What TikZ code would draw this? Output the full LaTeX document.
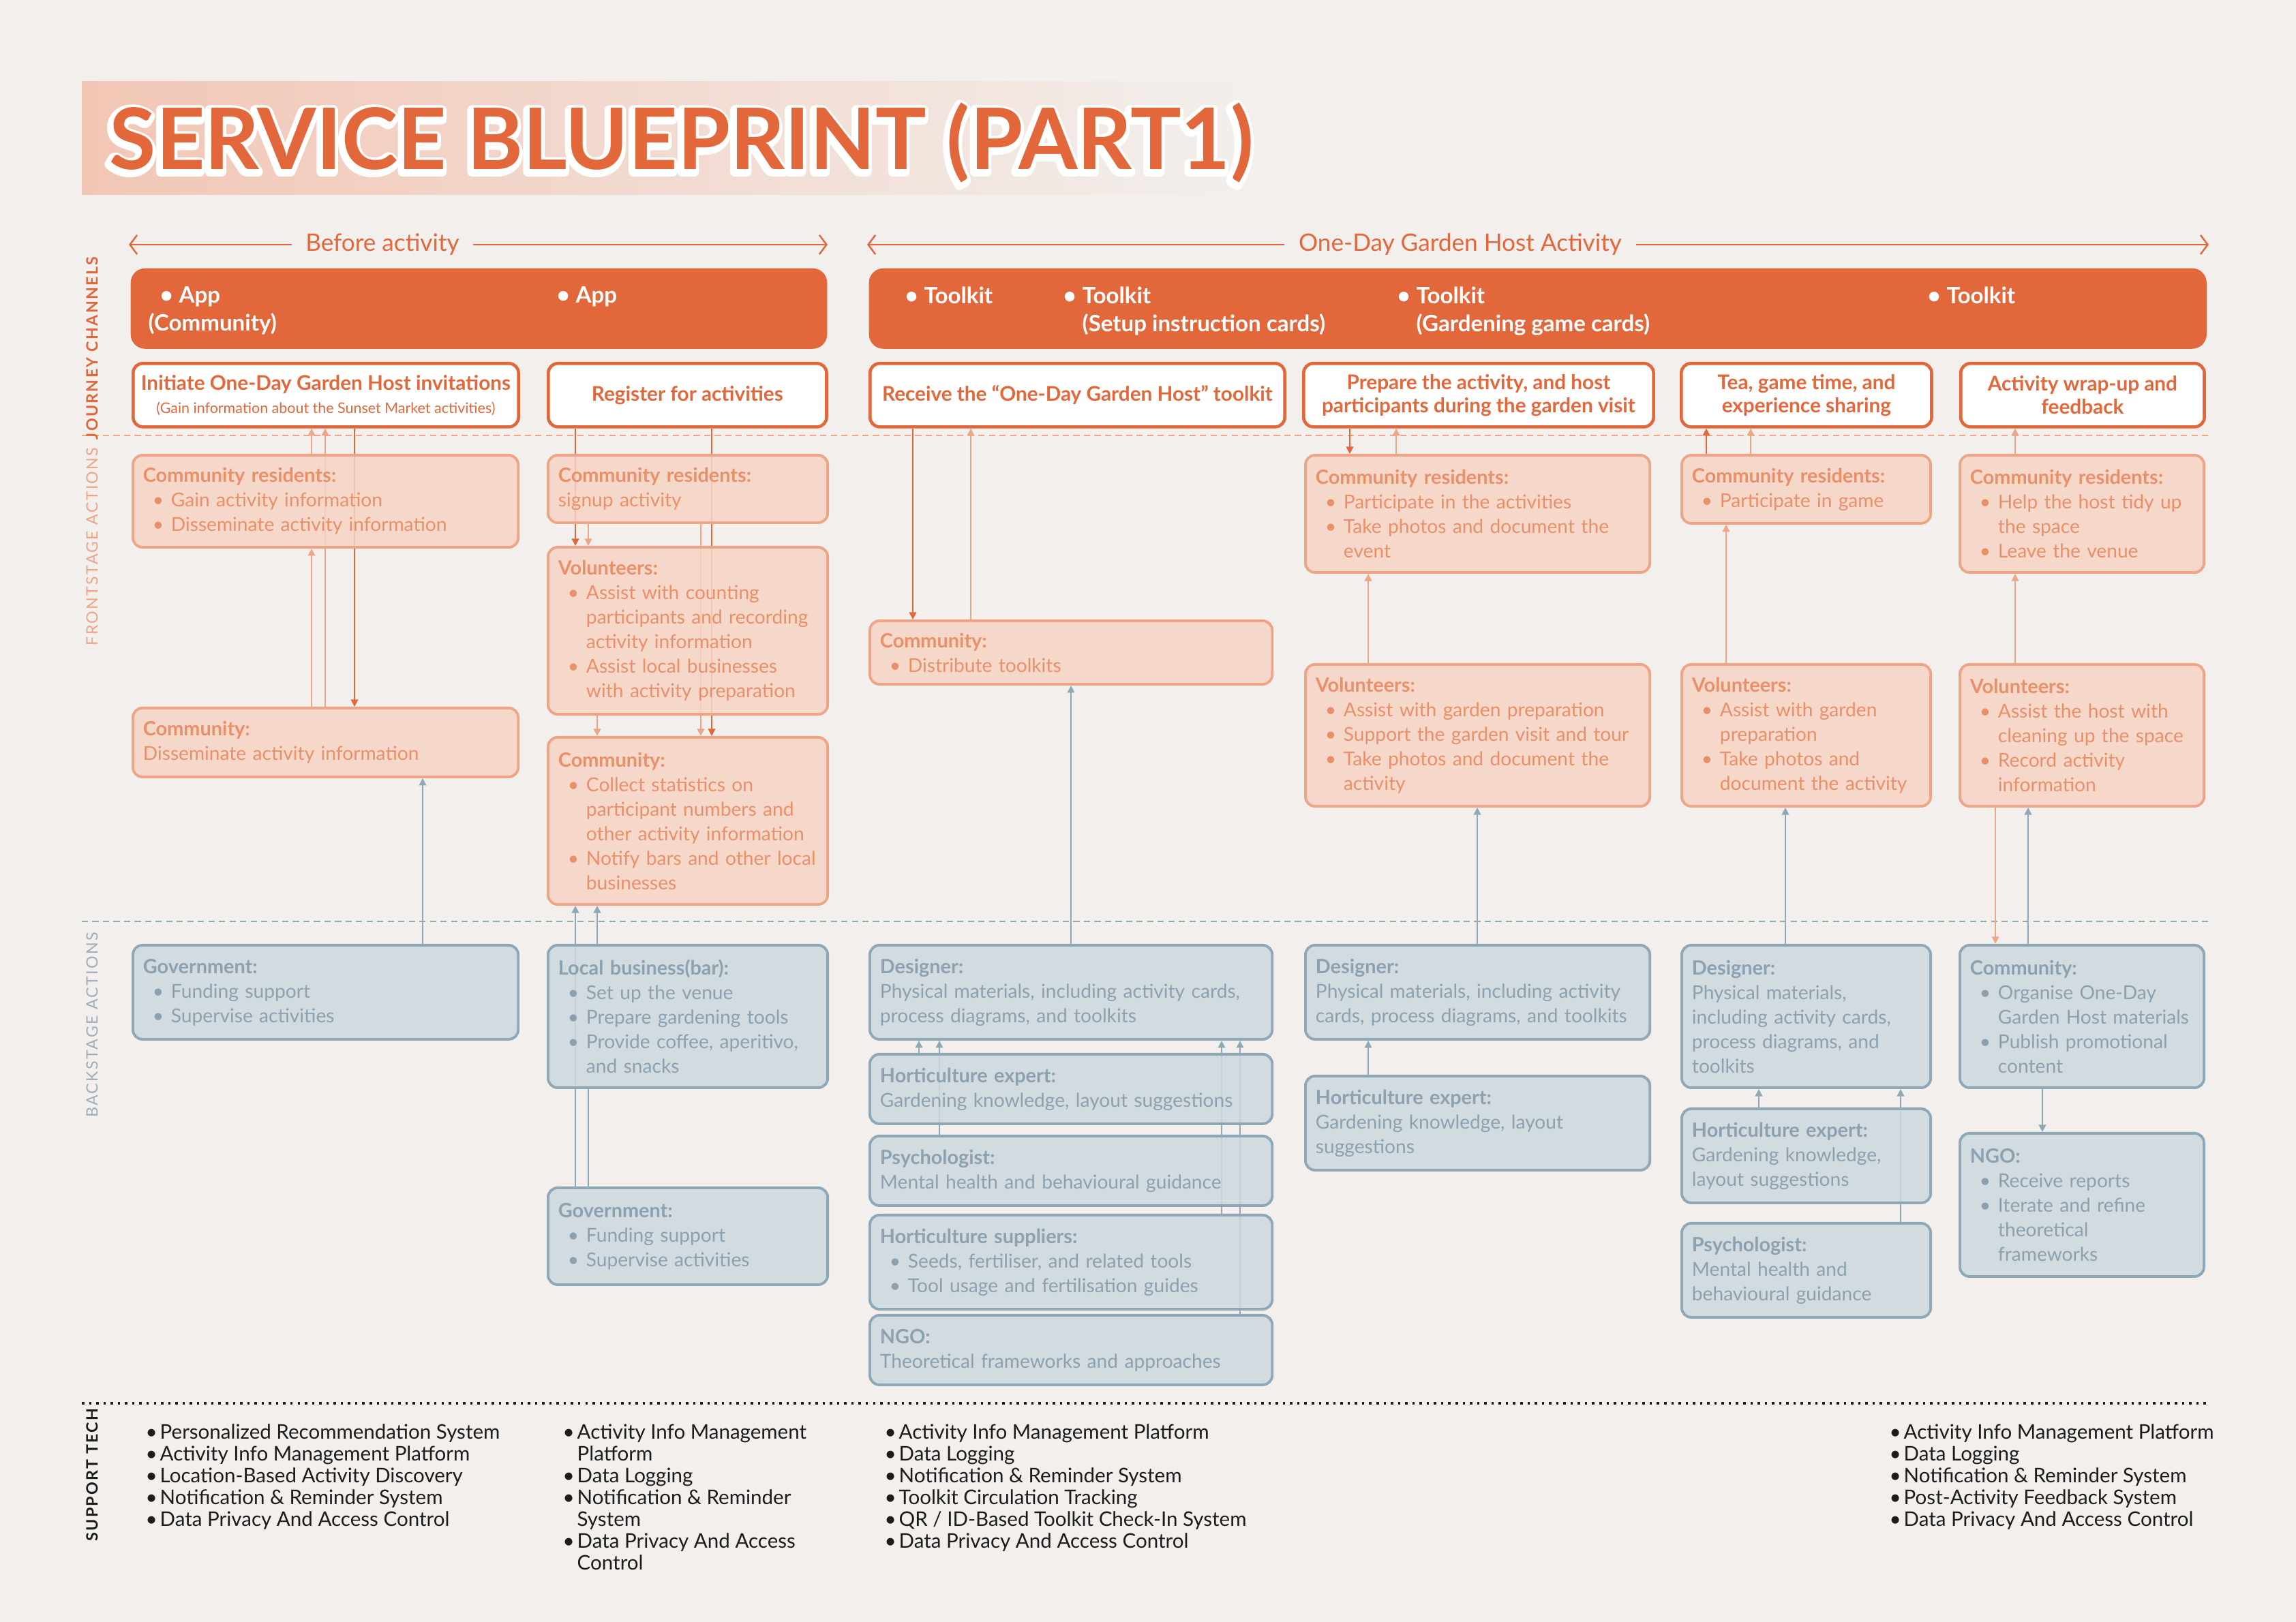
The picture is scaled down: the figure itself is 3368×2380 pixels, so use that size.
\documentclass[tikz,border=0pt]{standalone}
\usepackage{fontspec}
\setmainfont{Lato}
\usepackage{xcolor}
\usepackage{tikz}
\usetikzlibrary{arrows.meta,positioning,calc}
\definecolor{paper}{HTML}{F2EFEC}
\definecolor{jorange}{HTML}{E2673A}
\definecolor{fline}{HTML}{EEA689}
\definecolor{fborder}{HTML}{EEA587}
\definecolor{ffill}{HTML}{F6D4C5}
\definecolor{ftext}{HTML}{E98F69}
\definecolor{bline}{HTML}{8FA8B8}
\definecolor{bborder}{HTML}{8FA8B8}
\definecolor{bfill}{HTML}{CDD8DF}
\definecolor{btext}{HTML}{8CA1AF}
\definecolor{ink}{HTML}{1C1C1C}
\definecolor{titlepink}{HTML}{F2C6B5}
\definecolor{titlegray}{HTML}{E3E5E5}
\pgfdeclarelayer{paper}
\pgfdeclarelayer{links}
\pgfsetlayers{paper,links,main}
% fonts and list helpers
\newcommand{\boxfont}{\fontsize{8.0}{10.24}\selectfont\hyphenpenalty=10000\exhyphenpenalty=10000}
\newcommand{\hd}[1]{{\fontsize{8.2}{10.24}\selectfont\bfseries #1}}
\newcommand{\jfont}{\fontsize{8.45}{9.6}\selectfont\bfseries}
\newcommand{\itemdot}{\makebox[0.41cm][l]{\hspace{0.14cm}\textbullet}}
\newcommand{\itemgap}{\hspace*{0.41cm}}
\newcommand{\sdot}{\makebox[0.21cm][l]{\textbullet}}
\newcommand{\sgap}{\hspace*{0.21cm}}
\newcommand{\chdot}{\makebox[0.28cm][l]{\textbullet}}
% white outline drawn as one stroked copy under the filled text
\newcommand{\titleglow}[1]{%
  \rlap{\color{white}\kern-0.8pt\raisebox{-0.8pt}{\special{pdf:literal direct 1 Tr 4.2 w 1 j}#1\special{pdf:literal direct 0 Tr 1 w}}}%
  #1}
\tikzset{
  chanbar/.style={rectangle, anchor=north west, rounded corners=6pt, fill=jorange, draw=none, minimum height=1.18cm},
  chantext/.style={anchor=north west, inner sep=0pt, align=left, text=white, font=\fontsize{9.4}{11.7}\selectfont\bfseries},
  jbox/.style={rectangle, anchor=north west, rounded corners=4pt, draw=jorange, line width=1.3pt, fill=white, align=center, text=jorange, font=\jfont, inner sep=2pt, minimum height=0.93cm},
  fbox/.style={rectangle, anchor=north west, rounded corners=4pt, draw=fborder, line width=1.1pt, fill=ffill, fill opacity=0.85, text opacity=1, text=ftext, align=left, inner xsep=0.15cm, inner ysep=0pt, font=\boxfont},
  bbox/.style={fbox, draw=bborder, fill=bfill, text=btext},
  c1/.style={text width=5.35cm}, c2/.style={text width=3.80cm}, c3/.style={text width=5.60cm},
  c4/.style={text width=4.75cm}, c5/.style={text width=3.35cm}, c6/.style={text width=3.28cm},
  link/.style={line width=0.55pt, -{Triangle[length=3pt,width=3pt]}},
  jlink/.style={link, draw=jorange, fill=jorange},
  flink/.style={link, draw=fline, fill=fline},
  blink/.style={link, draw=bline, fill=bline},
  bplain/.style={line width=0.55pt, draw=bline},
  phase/.style={draw=jorange, line width=0.7pt, -{Straight Barb[length=3pt,width=8pt]}},
  phaselabel/.style={text=jorange, font=\fontsize{10}{12}\selectfont, inner xsep=0.2cm},
  rowlabel/.style={rotate=90, inner sep=0pt},
  support/.style={anchor=north west, inner sep=0pt, align=left, text=ink, font=\fontsize{8.4}{9.1}\selectfont}
}

\begin{document}
\begin{tikzpicture}[x=0.01cm, y=-0.01cm]
  \begin{pgfonlayer}{paper}
    \fill[paper] (0,0) rectangle (3368,2380);
    \shade[left color=titlepink, middle color=titlegray, right color=paper] (120,120) rectangle (1830,286);
  \end{pgfonlayer}

  % title
  \node[anchor=base west, inner sep=0pt, text=jorange, font=\fontsize{35.4}{35.4}\selectfont\bfseries] (title) at (160,249) {\titleglow{SERVICE BLUEPRINT (PART1)}};

  % phases
  \node[phaselabel] (before) at (561,359) {Before activity};
  \node[phaselabel] (during) at (2142,359) {One-Day Garden Host Activity};
  \coordinate (beforeL) at (189,359);
  \coordinate (beforeR) at (1214,359);
  \coordinate (duringL) at (1272,359);
  \coordinate (duringR) at (3240,359);

  % row labels
  \node[rowlabel, text=jorange, font=\fontsize{6.6}{7}\selectfont\bfseries\addfontfeatures{LetterSpace=10}] (lblJourney) at (135,511) {JOURNEY CHANNELS};
  \node[rowlabel, text=fborder, font=\fontsize{6.6}{7}\selectfont\addfontfeatures{LetterSpace=10}] (lblFront) at (135,802) {FRONTSTAGE ACTIONS};
  \node[rowlabel, text=btext!85, font=\fontsize{6.6}{7}\selectfont\addfontfeatures{LetterSpace=10}] (lblBack) at (135,1504) {BACKSTAGE ACTIONS};
  \node[rowlabel, text=ink, font=\fontsize{6.6}{7}\selectfont\bfseries\addfontfeatures{LetterSpace=10}] (lblSupport) at (135,2164) {SUPPORT TECH};

  % journey channels
  \node[chanbar, minimum width=10.21cm] (barBefore) at (191,393) {};
  \node[chanbar, minimum width=19.61cm] (barDuring) at (1274,393) {};
  \node[chantext] (chApp) at (217,420) {\hspace*{0.17cm}\chdot App\\(Community)};
  \node[chantext] (chAppB) at (816,420) {\chdot App};
  \node[chantext] (chKit) at (1327,420) {\chdot Toolkit};
  \node[chantext] (chKitSetup) at (1559,420) {\chdot Toolkit\\\hspace*{0.28cm}(Setup instruction cards)};
  \node[chantext] (chKitGame) at (2049,420) {\chdot Toolkit\\\hspace*{0.28cm}(Gardening game cards)};
  \node[chantext] (chKitEnd) at (2827,420) {\chdot Toolkit};

  % customer journey
  \node[jbox, minimum width=5.65cm] (jInvite) at (193,531) {Initiate One-Day Garden Host invitations\\{\fontsize{6.1}{7}\selectfont\mdseries (Gain information about the Sunset Market activities)}};
  \node[jbox, minimum width=4.08cm] (jRegister) at (802,531) {Register for activities};
  \node[jbox, minimum width=6.08cm] (jReceive) at (1274,531) {Receive the “One-Day Garden Host” toolkit};
  \node[jbox, minimum width=5.13cm] (jPrepare) at (1910,531) {Prepare the activity, and host\\participants during the garden visit};
  \node[jbox, minimum width=3.67cm] (jTea) at (2464,531) {Tea, game time, and\\experience sharing};
  \node[jbox, minimum width=3.57cm] (jWrap) at (2874,531) {Activity wrap-up and\\feedback};

  % frontstage
  \node[fbox, c1, minimum height=1.35cm] (fGain) at (193,666) {\hd{Community residents:}\\\itemdot Gain activity information\\\itemdot Disseminate activity information};
  \node[fbox, c1, minimum height=1.01cm] (fDissem) at (193,1037) {\hd{Community:}\\Disseminate activity information};
  \node[fbox, c2, minimum height=0.99cm] (fSignup) at (802,666) {\hd{Community residents:}\\signup activity};
  \node[fbox, c2, minimum height=2.45cm] (fVolCount) at (802,801) {\hd{Volunteers:}\\\itemdot Assist with counting\\\itemgap participants and recording\\\itemgap activity information\\\itemdot Assist local businesses\\\itemgap with activity preparation};
  \node[fbox, c2, minimum height=2.45cm] (fStats) at (802,1080) {\hd{Community:}\\\itemdot Collect statistics on\\\itemgap participant numbers and\\\itemgap other activity information\\\itemdot Notify bars and other local\\\itemgap businesses};
  \node[fbox, c3, minimum height=0.93cm] (fDistrib) at (1274,909) {\hd{Community:}\\\itemdot Distribute toolkits};
  \node[fbox, c4, minimum height=1.72cm] (fJoin) at (1913,666) {\hd{Community residents:}\\\itemdot Participate in the activities\\\itemdot Take photos and document the\\\itemgap event};
  \node[fbox, c4, minimum height=2.08cm] (fVolGarden) at (1913,973) {\hd{Volunteers:}\\\itemdot Assist with garden preparation\\\itemdot Support the garden visit and tour\\\itemdot Take photos and document the\\\itemgap activity};
  \node[fbox, c5, minimum height=1.00cm] (fGame) at (2465,666) {\hd{Community residents:}\\\itemdot Participate in game};
  \node[fbox, c5, minimum height=2.08cm] (fVolGame) at (2465,973) {\hd{Volunteers:}\\\itemdot Assist with garden\\\itemgap preparation\\\itemdot Take photos and\\\itemgap document the activity};
  \node[fbox, c6, minimum height=1.72cm] (fTidy) at (2873,666) {\hd{Community residents:}\\\itemdot Help the host tidy up\\\itemgap the space\\\itemdot Leave the venue};
  \node[fbox, c6, minimum height=2.08cm] (fVolClean) at (2873,973) {\hd{Volunteers:}\\\itemdot Assist the host with\\\itemgap cleaning up the space\\\itemdot Record activity\\\itemgap information};

  % backstage
  \node[bbox, c1, minimum height=1.38cm] (bGov) at (193,1385) {\hd{Government:}\\\itemdot Funding support\\\itemdot Supervise activities};
  \node[bbox, c2, minimum height=2.09cm] (bBar) at (802,1385) {\hd{Local business(bar):}\\\itemdot Set up the venue\\\itemdot Prepare gardening tools\\\itemdot Provide coffee, aperitivo,\\\itemgap and snacks};
  \node[bbox, c2, minimum height=1.42cm] (bGovB) at (802,1741) {\hd{Government:}\\\itemdot Funding support\\\itemdot Supervise activities};
  \node[bbox, c3, minimum height=1.38cm] (bDesign) at (1274,1385) {\hd{Designer:}\\Physical materials, including activity cards,\\process diagrams, and toolkits};
  \node[bbox, c3, minimum height=1.02cm] (bHortA) at (1274,1545) {\hd{Horticulture expert:}\\Gardening knowledge, layout suggestions};
  \node[bbox, c3, minimum height=1.02cm] (bPsychA) at (1274,1665) {\hd{Psychologist:}\\Mental health and behavioural guidance};
  \node[bbox, c3, minimum height=1.38cm] (bSupply) at (1274,1781) {\hd{Horticulture suppliers:}\\\itemdot Seeds, fertiliser, and related tools\\\itemdot Tool usage and fertilisation guides};
  \node[bbox, c3, minimum height=1.02cm] (bNgoA) at (1274,1928) {\hd{NGO:}\\Theoretical frameworks and approaches};
  \node[bbox, c4, minimum height=1.38cm] (bDesignB) at (1913,1385) {\hd{Designer:}\\Physical materials, including activity\\cards, process diagrams, and toolkits};
  \node[bbox, c4, minimum height=1.38cm] (bHortB) at (1913,1577) {\hd{Horticulture expert:}\\Gardening knowledge, layout\\suggestions};
  \node[bbox, c5, minimum height=2.09cm] (bDesignC) at (2465,1385) {\hd{Designer:}\\Physical materials,\\including activity cards,\\process diagrams, and\\toolkits};
  \node[bbox, c5, minimum height=1.38cm] (bHortC) at (2465,1625) {\hd{Horticulture expert:}\\Gardening knowledge,\\layout suggestions};
  \node[bbox, c5, minimum height=1.38cm] (bPsychC) at (2465,1793) {\hd{Psychologist:}\\Mental health and\\behavioural guidance};
  \node[bbox, c6, minimum height=2.09cm] (bCommunity) at (2873,1385) {\hd{Community:}\\\itemdot Organise One-Day\\\itemgap Garden Host materials\\\itemdot Publish promotional\\\itemgap content};
  \node[bbox, c6, minimum height=2.10cm] (bNgoC) at (2873,1661) {\hd{NGO:}\\\itemdot Receive reports\\\itemdot Iterate and refine\\\itemgap theoretical\\\itemgap frameworks};

  % support tech
  \node[support] (supBefore) at (213,2089) {\sdot Personalized Recommendation System\\\sdot Activity Info Management Platform\\\sdot Location-Based Activity Discovery\\\sdot Notification \& Reminder System\\\sdot Data Privacy And Access Control};
  \node[support] (supRegister) at (825,2089) {\sdot Activity Info Management\\\sgap Platform\\\sdot Data Logging\\\sdot Notification \& Reminder\\\sgap System\\\sdot Data Privacy And Access\\\sgap Control};
  \node[support] (supToolkit) at (1297,2089) {\sdot Activity Info Management Platform\\\sdot Data Logging\\\sdot Notification \& Reminder System\\\sdot Toolkit Circulation Tracking\\\sdot QR / ID-Based Toolkit Check-In System\\\sdot Data Privacy And Access Control};
  \node[support] (supWrap) at (2771,2089) {\sdot Activity Info Management Platform\\\sdot Data Logging\\\sdot Notification \& Reminder System\\\sdot Post-Activity Feedback System\\\sdot Data Privacy And Access Control};

  \begin{pgfonlayer}{links}
    % phase arrows
    \draw[phase] (before.west) -- (beforeL);
    \draw[phase] (before.east) -- (beforeR);
    \draw[phase] (during.west) -- (duringL);
    \draw[phase] (during.east) -- (duringR);
    % lines of interaction, visibility, support
    \draw[fline, line width=0.6pt, dash pattern=on 2.6pt off 1.8pt] (120,639) -- (3240,639);
    \draw[bline, line width=0.6pt, dash pattern=on 2.6pt off 1.8pt] (120,1352) -- (3240,1352);
    \draw[ink, line width=1pt, dash pattern=on 1pt off 2pt] (120,2059) -- (3240,2059);

    % before: invitations
    \draw[flink] (fDissem.north -| 457,0) -- (fGain.south -| 457,0);
    \draw[flink] (fGain.north -| 457,0) -- (jInvite.south -| 457,0);
    \draw[flink] (fDissem.north -| 477,0) -- (jInvite.south -| 477,0);
    \draw[jlink] (jInvite.south -| 520,0) -- (fDissem.north -| 520,0);
    \draw[blink] (bGov.north -| 620,0) -- (fDissem.south -| 620,0);
    % before: register
    \draw[jlink] (jRegister.south -| 844,0) -- (fVolCount.north -| 844,0);
    \draw[flink] (fSignup.south -| 863,0) -- (fVolCount.north -| 863,0);
    \draw[jlink] (jRegister.south -| 1044,0) -- (fStats.north -| 1044,0);
    \draw[flink] (fSignup.south -| 1028,0) -- (fStats.north -| 1028,0);
    \draw[flink] (fVolCount.south -| 876,0) -- (fStats.north -| 876,0);
    \draw[blink] (bGovB.north -| 844,0) -- (fStats.south -| 844,0);
    \draw[blink] (bBar.north -| 876,0) -- (fStats.south -| 876,0);
    \draw[bplain] (bGovB.north -| 863,0) -- (bBar.south -| 863,0);
    % toolkit
    \draw[jlink] (jReceive.south -| 1339,0) -- (fDistrib.north -| 1339,0);
    \draw[flink] (fDistrib.north -| 1424,0) -- (jReceive.south -| 1424,0);
    \draw[blink] (bDesign.north -| 1571,0) -- (fDistrib.south -| 1571,0);
    \draw[blink] (bHortA.north -| 1348,0) -- (bDesign.south -| 1348,0);
    \draw[blink] (bPsychA.north -| 1378,0) -- (bDesign.south -| 1378,0);
    \draw[blink] (bSupply.north -| 1792,0) -- (bDesign.south -| 1792,0);
    \draw[blink] (bNgoA.north -| 1819,0) -- (bDesign.south -| 1819,0);
    % garden visit
    \draw[jlink] (jPrepare.south -| 1980,0) -- (fJoin.north -| 1980,0);
    \draw[flink] (fJoin.north -| 2048,0) -- (jPrepare.south -| 2048,0);
    \draw[flink] (fVolGarden.north -| 2007,0) -- (fJoin.south -| 2007,0);
    \draw[blink] (bDesignB.north -| 2167,0) -- (fVolGarden.south -| 2167,0);
    \draw[blink] (bHortB.north -| 2007,0) -- (bDesignB.south -| 2007,0);
    % tea and game
    \draw[jlink] (fGame.north -| 2503,0) -- (jTea.south -| 2503,0);
    \draw[flink] (fGame.north -| 2568,0) -- (jTea.south -| 2568,0);
    \draw[flink] (fVolGame.north -| 2532,0) -- (fGame.south -| 2532,0);
    \draw[blink] (bDesignC.north -| 2619,0) -- (fVolGame.south -| 2619,0);
    \draw[blink] (bHortC.north -| 2580,0) -- (bDesignC.south -| 2580,0);
    \draw[blink] (bPsychC.north -| 2788,0) -- (bDesignC.south -| 2788,0);
    % wrap-up
    \draw[flink] (fTidy.north -| 2956,0) -- (jWrap.south -| 2956,0);
    \draw[flink] (fVolClean.north -| 2956,0) -- (fTidy.south -| 2956,0);
    \draw[flink] (fVolClean.south -| 2927,0) -- (bCommunity.north -| 2927,0);
    \draw[blink] (bCommunity.north -| 2975,0) -- (fVolClean.south -| 2975,0);
    \draw[blink] (bCommunity.south -| 2996,0) -- (bNgoC.north -| 2996,0);
  \end{pgfonlayer}
\end{tikzpicture}
\end{document}
